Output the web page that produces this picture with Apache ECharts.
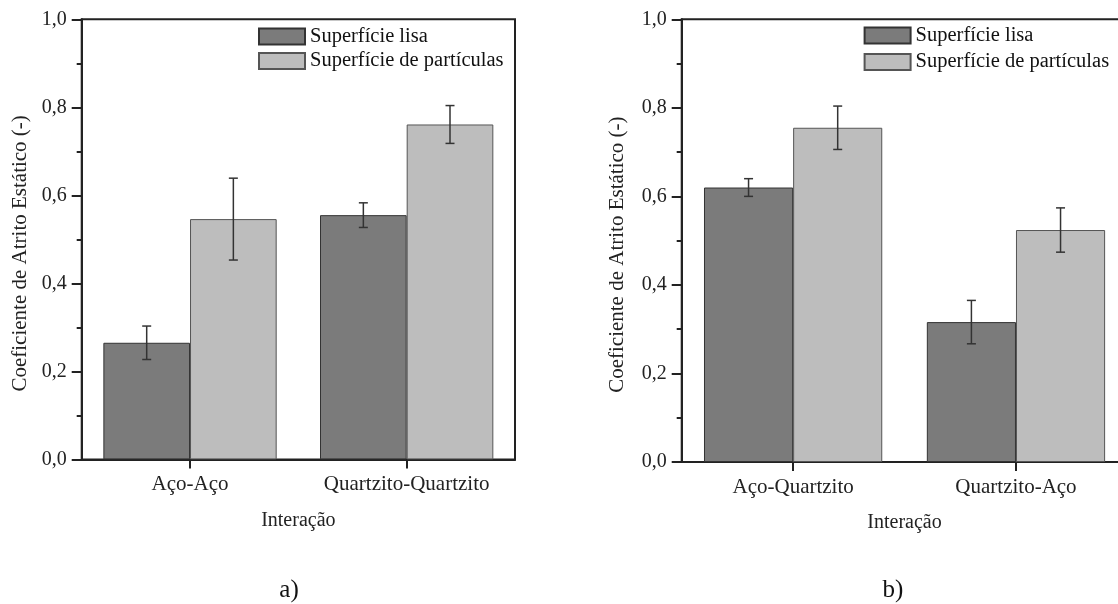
<!DOCTYPE html>
<html>
<head>
<meta charset="utf-8">
<script src="https://cdn.jsdelivr.net/npm/echarts@6/dist/echarts.min.js"></script>
<style>
html,body{margin:0;padding:0;background:#fff;}
#chart{width:1118px;height:604px;}
</style>
</head>
<body>
<div id="chart"></div>
<script>
// ---- data ----
const seriesNames = ['Superfície lisa', 'Superfície de partículas'];
const categoriesA = ['Aço-Aço', 'Quartzito-Quartzito'];
const lisaA = [0.265, 0.555];
const lisaErrA = [0.038, 0.028];
const particulasA = [0.546, 0.761];
const particulasErrA = [0.093, 0.043];

const categoriesB = ['Aço-Quartzito', 'Quartzito-Aço'];
const lisaB = [0.620, 0.316];
const lisaErrB = [0.020, 0.049];
const particulasB = [0.755, 0.524];
const particulasErrB = [0.049, 0.050];

const yTickLabels = ['0,0', '0,2', '0,4', '0,6', '0,8', '1,0'];
const yAxisName = 'Coeficiente de Atrito Estático (-)';
const xAxisName = 'Interação';
const panelLabels = ['a)', 'b)'];

// ---- styles ----
const FONT = '"Liberation Serif", "Times New Roman", serif';
const AXIS_COLOR = '#222';
const DARK = '#7b7b7b';
const LIGHT = '#bdbdbd';

function yAxisCfg(gridIndex, nameGap) {
  return {
    type: 'value', gridIndex: gridIndex, min: 0, max: 1, interval: 0.2,
    name: yAxisName, nameLocation: 'middle', nameGap: nameGap, nameRotate: 90,
    nameTextStyle: { fontFamily: FONT, fontSize: 21, color: '#222', padding: [0, 28, 0, 0] },
    axisLine: { show: true, lineStyle: { color: AXIS_COLOR, width: 2 } },
    axisTick: { show: true, inside: false, length: 10, lineStyle: { color: AXIS_COLOR, width: 2 } },
    minorTick: { show: true, splitNumber: 2, length: 5, lineStyle: { color: AXIS_COLOR, width: 2 } },
    splitLine: { show: false },
    axisLabel: {
      margin: 15, fontFamily: FONT, fontSize: 20, color: '#222',
      formatter: function (v) { return yTickLabels[Math.round(v / 0.2)]; }
    }
  };
}
function xAxisCfg(gridIndex, cats) {
  return {
    type: 'category', gridIndex: gridIndex, data: cats,
    name: xAxisName, nameLocation: 'middle', nameGap: 51,
    nameTextStyle: { fontFamily: FONT, fontSize: 20, color: '#222' },
    axisLine: { show: true, lineStyle: { color: AXIS_COLOR, width: 2 } },
    axisTick: { show: true, alignWithLabel: true, inside: false, length: 9, lineStyle: { color: AXIS_COLOR, width: 2 } },
    axisLabel: { margin: 15, fontFamily: FONT, fontSize: 21, color: '#222' },
    splitLine: { show: false }
  };
}
function barSeries(name, data, color, idx, border) {
  return {
    type: 'bar', name: name, data: data, xAxisIndex: idx, yAxisIndex: idx,
    barGap: '0%', barCategoryGap: '20%',
    itemStyle: { color: color, borderColor: border, borderWidth: 1 },
    emphasis: { disabled: true }, z: 2
  };
}
function errSeries(values, errs, sign, idx) {
  const data = values.map(function (v, i) { return [i, v, errs[i]]; });
  return {
    type: 'custom', xAxisIndex: idx, yAxisIndex: idx, z: 5, silent: true,
    data: data,
    renderItem: function (params, api) {
      const c = api.value(0), v = api.value(1), e = api.value(2);
      const band = api.size([1, 0])[0];
      const off = sign * band * 0.2;
      const top = api.coord([c, v + e]);
      const bot = api.coord([c, v - e]);
      const x = top[0] + off;
      const h = 4.5;
      const st = { stroke: '#333', lineWidth: 1.5 };
      return {
        type: 'group', children: [
          { type: 'line', shape: { x1: x, y1: top[1], x2: x, y2: bot[1] }, style: st },
          { type: 'line', shape: { x1: x - h, y1: top[1], x2: x + h, y2: top[1] }, style: st },
          { type: 'line', shape: { x1: x - h, y1: bot[1], x2: x + h, y2: bot[1] }, style: st }
        ]
      };
    }
  };
}
function legendCfg(idx, left, top, gap) {
  return {
    show: true, orient: 'vertical', left: left, top: top, itemGap: gap,
    itemWidth: 46, itemHeight: 16, icon: 'rect',
    data: seriesNames,
    textStyle: { fontFamily: FONT, fontSize: 20.5, color: '#111', lineHeight: 20 },
    selectedMode: false
  };
}

const chart = echarts.init(document.getElementById('chart'), null, { renderer: 'canvas' });
chart.setOption({
  animation: false,
  backgroundColor: '#fff',
  grid: [
    { left: 81.7, width: 433.3, top: 19.3, bottom: 144.6, outerBoundsMode: 'none', containLabel: false, show: true, borderColor: AXIS_COLOR, borderWidth: 2, backgroundColor: 'transparent' },
    { left: 681.7, width: 445.7, top: 19.3, bottom: 142, outerBoundsMode: 'none', containLabel: false, show: true, borderColor: AXIS_COLOR, borderWidth: 2, backgroundColor: 'transparent' }
  ],
  legend: [legendCfg(0, 253, 21, 3.5), legendCfg(1, 858.6, 20, 5.5)],
  xAxis: [xAxisCfg(0, categoriesA), xAxisCfg(1, categoriesB)],
  yAxis: [yAxisCfg(0, 51), yAxisCfg(1, 54)],
  series: [
    barSeries(seriesNames[0], lisaA, DARK, 0, '#333'),
    barSeries(seriesNames[1], particulasA, LIGHT, 0, '#555'),
    errSeries(lisaA, lisaErrA, -1, 0),
    errSeries(particulasA, particulasErrA, 1, 0),
    barSeries(seriesNames[0], lisaB, DARK, 1, '#333'),
    barSeries(seriesNames[1], particulasB, LIGHT, 1, '#555'),
    errSeries(lisaB, lisaErrB, -1, 1),
    errSeries(particulasB, particulasErrB, 1, 1)
  ],
  graphic: [
    { type: 'text', x: 289, y: 590, style: { text: panelLabels[0], font: '25px ' + FONT, fill: '#111', align: 'center', verticalAlign: 'middle' } },
    { type: 'text', x: 893, y: 590, style: { text: panelLabels[1], font: '25px ' + FONT, fill: '#111', align: 'center', verticalAlign: 'middle' } }
  ]
});
</script>
</body>
</html>
